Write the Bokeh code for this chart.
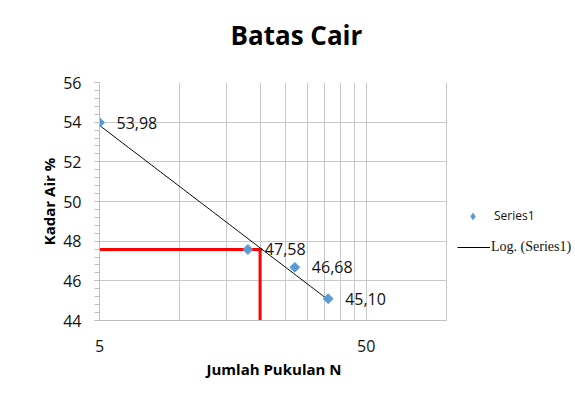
import numpy as np
from bokeh.plotting import figure
from bokeh.models import (Range1d, FixedTicker, SingleIntervalTicker, Legend,
                          LegendItem, BasicTickFormatter, Title, BoxAnnotation)
from bokeh.embed import file_html
from bokeh.resources import INLINE
from bokeh.core.properties import value

# ---- data ----
pukulan = [5, 18, 27, 36]                 # Jumlah Pukulan N
kadar_air = [53.98, 47.58, 46.68, 45.10]  # Kadar Air %
x_ticks = [5, 50]
x_grid = [5, 10, 15, 20, 25, 30, 35, 40, 45, 50, 100]
y_ticks = [44, 46, 48, 50, 52, 54, 56]
x_min, x_max = 5, 100
ref_n = 20          # red guide line (N)
ref_w = 47.58       # red guide line (Kadar Air)

FONT = "Open Sans"
GRID = "#c8c8c8"
AXIS = "#bfbfbf"
BLUE = "#5b9bd5"
TXT = "#111111"

PLOT_W = 347      # width of the plotting area (5 .. 100)
FRAME_W = 476     # frame extended to the right edge to host the legend
x_end = x_min * (x_max / x_min) ** (FRAME_W / PLOT_W)

p = figure(frame_width=FRAME_W, frame_height=238, x_axis_type="log",
           x_range=Range1d(x_min, x_end), y_range=Range1d(44, 56),
           output_backend="svg", toolbar_location=None,
           min_border_left=99, min_border_right=0,
           min_border_top=82, min_border_bottom=80)
p.outline_line_color = None
p.title.visible = False

# title: a blank spacer next to the frame, then the real title above it
p.add_layout(Title(text=" ", text_font_size="10px", standoff=17), "above")
p.add_layout(Title(text="Batas Cair", text_font=FONT, text_font_size="26px",
                   text_font_style="bold", text_color="#000000",
                   align="left", offset=131, standoff=0), "above")

# grids
p.xgrid.ticker = FixedTicker(ticks=x_grid, minor_ticks=[])
p.ygrid.ticker = FixedTicker(ticks=y_ticks, minor_ticks=[])
p.xgrid.grid_line_color = GRID
p.ygrid.grid_line_color = GRID

# x axis
xa = p.xaxis[0]
xa.bounds = (x_min, x_max)
xa.ticker = FixedTicker(ticks=x_ticks, minor_ticks=[])
xa.formatter = BasicTickFormatter()
xa.axis_line_color = AXIS
xa.major_tick_out = 0
xa.major_tick_in = 0
xa.minor_tick_line_color = None
xa.major_label_standoff = 19
xa.major_label_text_font = FONT
xa.major_label_text_font_size = "16px"
xa.major_label_text_color = TXT

# x axis title, centred under the plotting area (5 .. 100)
p.add_layout(Title(text="Jumlah Pukulan N", text_font=FONT, text_font_size="15px",
                   text_font_style="bold", text_color="#000000",
                   align="left", offset=107, vertical_align="top", standoff=8), "below")

# y axis
ya = p.yaxis[0]
ya.ticker = SingleIntervalTicker(interval=2, num_minor_ticks=5)
ya.axis_line_color = AXIS
ya.major_tick_line_color = AXIS
ya.minor_tick_line_color = AXIS
ya.major_tick_out = 5
ya.minor_tick_out = 5
ya.major_tick_in = 0
ya.minor_tick_in = 0
ya.major_label_standoff = 13
ya.major_label_text_font = FONT
ya.major_label_text_font_size = "16px"
ya.major_label_text_color = TXT
ya.axis_label = "Kadar Air %"
ya.axis_label_text_font = FONT
ya.axis_label_text_font_size = "15px"
ya.axis_label_text_font_style = "bold"
ya.axis_label_text_color = "#000000"
ya.axis_label_standoff = 1

# red guide lines (drawn under the data)
p.line([4.5, ref_n * 1.018], [ref_w, ref_w], line_color="red", line_width=3)
p.line([ref_n, ref_n], [ref_w, 43], line_color="red", line_width=3)

# logarithmic trendline fitted to the data
a, b = np.polyfit(np.log(pukulan), kadar_air, 1)
tx = np.geomspace(min(pukulan), max(pukulan), 80)
ty = a * np.log(tx) + b
r_trend = p.line(tx, ty, line_color="black", line_width=1)

# points
p.scatter(pukulan, kadar_air, marker="square", size=7, angle=np.pi / 4,
          fill_color=BLUE, line_color=BLUE)

# data labels
labels = [f"{v:.2f}".replace(".", ",") for v in kadar_air]
p.text(x=pukulan, y=kadar_air, text=labels, x_offset=17,
       text_align="left", text_baseline="middle",
       text_font=value(FONT), text_font_size="16px", text_color=TXT)

# blank out the area right of the plotting region (legend area)
p.add_layout(BoxAnnotation(left=x_max * 1.005, fill_color="white", fill_alpha=1,
                           line_color=None))

# legends (diamond legend glyph from a zero-size copy of the series)
r_leg_pts = p.scatter(pukulan, kadar_air, marker="diamond", size=0,
                      fill_color=BLUE, line_color=BLUE)
leg1 = Legend(items=[LegendItem(label="Series1", renderers=[r_leg_pts])],
              location=(357, 96), glyph_width=33, glyph_height=16, label_height=16,
              label_standoff=5, padding=0, margin=0, spacing=0,
              border_line_color=None, background_fill_alpha=0,
              label_text_font=FONT, label_text_font_size="12px", label_text_color=TXT)
leg2 = Legend(items=[LegendItem(label="Log. (Series1)", renderers=[r_trend])],
              location=(358, 63), glyph_width=33, glyph_height=20, label_height=20,
              label_standoff=1, padding=0, margin=0, spacing=0,
              border_line_color=None, background_fill_alpha=0,
              label_text_font="Liberation Serif", label_text_font_size="14px",
              label_text_color=TXT)
p.add_layout(leg1)
p.add_layout(leg2)

open("out.html", "w").write(file_html(p, INLINE))
